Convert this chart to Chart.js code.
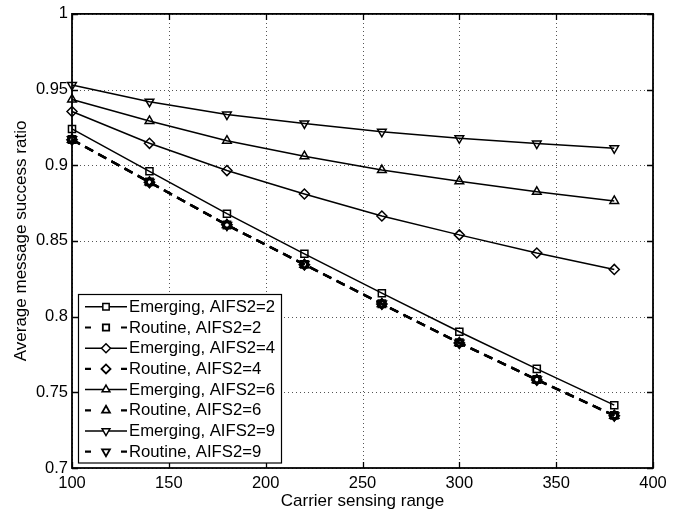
<!DOCTYPE html>
<html>
<head>
<meta charset="utf-8">
<script src="https://cdn.jsdelivr.net/npm/chart.js@4.4.1/dist/chart.umd.min.js"></script>
<style>
html,body{margin:0;padding:0;background:#fff;}
#wrap{position:relative;width:694px;height:513px;}
</style>
</head>
<body>
<div id="wrap"><canvas id="c" width="694" height="513"></canvas></div>
<script>
const xValues = [100, 140, 180, 220, 260, 300, 340, 380];
const xTicks = [100, 150, 200, 250, 300, 350, 400];
const yTicks = [0.7, 0.75, 0.8, 0.85, 0.9, 0.95, 1];

const emerging2 = [0.924, 0.896, 0.868, 0.8415, 0.8155, 0.790, 0.7655, 0.7415];
const routine2  = [0.917, 0.889, 0.8605, 0.8345, 0.8085, 0.7828, 0.7585, 0.7348];
const emerging4 = [0.9355, 0.9145, 0.8965, 0.881, 0.8665, 0.854, 0.842, 0.8312];
const routine4  = [0.9168, 0.8887, 0.8607, 0.8343, 0.8083, 0.7826, 0.7582, 0.7345];
const emerging6 = [0.9435, 0.9293, 0.9162, 0.906, 0.8968, 0.8894, 0.8825, 0.8764];
const routine6  = [0.917, 0.8888, 0.8606, 0.8344, 0.8084, 0.7827, 0.7583, 0.7347];
const emerging9 = [0.953, 0.942, 0.9335, 0.9276, 0.9221, 0.9178, 0.9143, 0.9112];
const routine9  = [0.9171, 0.8889, 0.8604, 0.8346, 0.8085, 0.7826, 0.7584, 0.7346];

const labels = ['Emerging, AIFS2=2','Routine, AIFS2=2','Emerging, AIFS2=4','Routine, AIFS2=4',
                'Emerging, AIFS2=6','Routine, AIFS2=6','Emerging, AIFS2=9','Routine, AIFS2=9'];
const seriesValues = [emerging2, routine2, emerging4, routine4, emerging6, routine6, emerging9, routine9];
const markerStyles = ['rect','rect','rectRot','rectRot','triangle','triangle','triangle','triangle'];
const markerRot = [0,0,0,0,0,0,180,180];

const FONT = '"Liberation Sans", Arial, Helvetica, sans-serif';

const datasets = seriesValues.map((vals, i) => {
  const routine = i % 2 === 1;
  return {
    label: labels[i],
    data: vals.map((v, k) => ({x: xValues[k], y: v})),
    borderColor: '#000',
    borderWidth: routine ? 2.2 : 1.5,
    borderDash: routine ? [9, 6] : [],
    pointStyle: markerStyles[i],
    rotation: markerRot[i],
    pointRadius: 5,
    pointBorderWidth: routine ? 1.8 : 1.5,
    pointBorderColor: '#000',
    pointBackgroundColor: 'rgba(0,0,0,0)',
    tension: 0,
    fill: false,
    clip: false
  };
});

const gridPlugin = {
  id: 'dottedGrid',
  beforeDatasetsDraw(chart) {
    const ctx = chart.ctx;
    const a = chart.chartArea;
    const xs = chart.scales.x, ys = chart.scales.y;
    ctx.save();
    ctx.strokeStyle = '#555';
    ctx.lineWidth = 1;
    ctx.setLineDash([1, 3]);
    ctx.beginPath();
    xTicks.forEach(t => {
      const px = Math.round(xs.getPixelForValue(t)) + 0.5;
      ctx.moveTo(px, a.bottom); ctx.lineTo(px, a.top);
    });
    yTicks.forEach(t => {
      const py = Math.round(ys.getPixelForValue(t)) + 0.5;
      ctx.moveTo(a.left, py); ctx.lineTo(a.right, py);
    });
    ctx.stroke();
    ctx.restore();
  }
};

const frame = {
  id: 'frame',
  afterDraw(chart) {
    const ctx = chart.ctx;
    const a = chart.chartArea;
    const xs = chart.scales.x, ys = chart.scales.y;
    ctx.save();
    ctx.strokeStyle = '#000';
    ctx.setLineDash([]);
    ctx.lineWidth = 1.3;
    const tl = 6;
    ctx.beginPath();
    xTicks.forEach(t => {
      const px = Math.round(xs.getPixelForValue(t)) + 0.5;
      ctx.moveTo(px, a.bottom); ctx.lineTo(px, a.bottom - tl);
      ctx.moveTo(px, a.top); ctx.lineTo(px, a.top + tl);
    });
    yTicks.forEach(t => {
      const py = Math.round(ys.getPixelForValue(t)) + 0.5;
      ctx.moveTo(a.left, py); ctx.lineTo(a.left + tl, py);
      ctx.moveTo(a.right, py); ctx.lineTo(a.right - tl, py);
    });
    ctx.stroke();
    ctx.lineWidth = 1.8;
    ctx.strokeRect(a.left, a.top, a.right - a.left, a.bottom - a.top);

    // legend
    const lx0 = 78.5, ly0 = 294.5, lx1 = 281.5, ly1 = 463;
    ctx.fillStyle = '#fff';
    ctx.fillRect(lx0, ly0, lx1 - lx0, ly1 - ly0);
    ctx.lineWidth = 1.2;
    ctx.strokeRect(lx0, ly0, lx1 - lx0, ly1 - ly0);
    ctx.font = '16.7px ' + FONT;
    ctx.textBaseline = 'middle';
    ctx.textAlign = 'left';
    chart.data.datasets.forEach((ds, i) => {
      const y = 306.8 + i * 20.7;
      const s0 = 85, s1 = 127, mx = 106;
      ctx.strokeStyle = '#000';
      ctx.lineWidth = ds.borderWidth;
      ctx.setLineDash([]);
      ctx.beginPath();
      if (ds.borderDash && ds.borderDash.length) {
        ctx.moveTo(s0, y); ctx.lineTo(s0 + 6, y);
        ctx.moveTo(s1 - 6, y); ctx.lineTo(s1, y);
      } else {
        ctx.moveTo(s0, y); ctx.lineTo(s1, y);
      }
      ctx.stroke();
      ctx.lineWidth = ds.pointBorderWidth;
      ctx.fillStyle = '#fff';
      Chart.helpers.drawPoint(ctx, {pointStyle: ds.pointStyle, rotation: ds.rotation, radius: 4.5, borderWidth: ds.pointBorderWidth}, mx, y);
      ctx.fillStyle = '#000';
      ctx.fillText(ds.label, 129, y + 0.5);
    });
    ctx.restore();
  }
};

new Chart(document.getElementById('c'), {
  type: 'line',
  data: { datasets },
  plugins: [gridPlugin, frame],
  options: {
    responsive: false,
    animation: false,
    devicePixelRatio: 1,
    layout: { padding: { top: 10, right: 41, bottom: 0, left: 0 } },
    plugins: { legend: { display: false }, tooltip: { enabled: false } },
    scales: {
      x: {
        type: 'linear',
        min: 100, max: 400,
        afterBuildTicks: s => { s.ticks = xTicks.map(v => ({value: v})); },
        afterFit: s => { s.height = 45; },
        ticks: { color: '#000', padding: 6, maxRotation: 0, font: { family: FONT, size: 16.5 },
                 callback: v => String(v) },
        grid: { display: false, drawTicks: false },
        border: { display: false },
        title: { display: true, text: 'Carrier sensing range', color: '#000',
                 font: { family: FONT, size: 17 }, padding: { top: 0, bottom: 1 } }
      },
      y: {
        type: 'linear',
        min: 0.7, max: 1,
        afterBuildTicks: s => { s.ticks = yTicks.map(v => ({value: v})); },
        afterFit: s => { s.width = 72; },
        ticks: { color: '#000', padding: 4, font: { family: FONT, size: 16.5 },
                 callback: v => String(Math.round(v * 100) / 100) },
        grid: { display: false, drawTicks: false },
        border: { display: false },
        title: { display: true, text: 'Average message success ratio', color: '#000',
                 font: { family: FONT, size: 17 }, padding: { top: 11, bottom: 0 } }
      }
    }
  }
});
</script>
</body>
</html>
